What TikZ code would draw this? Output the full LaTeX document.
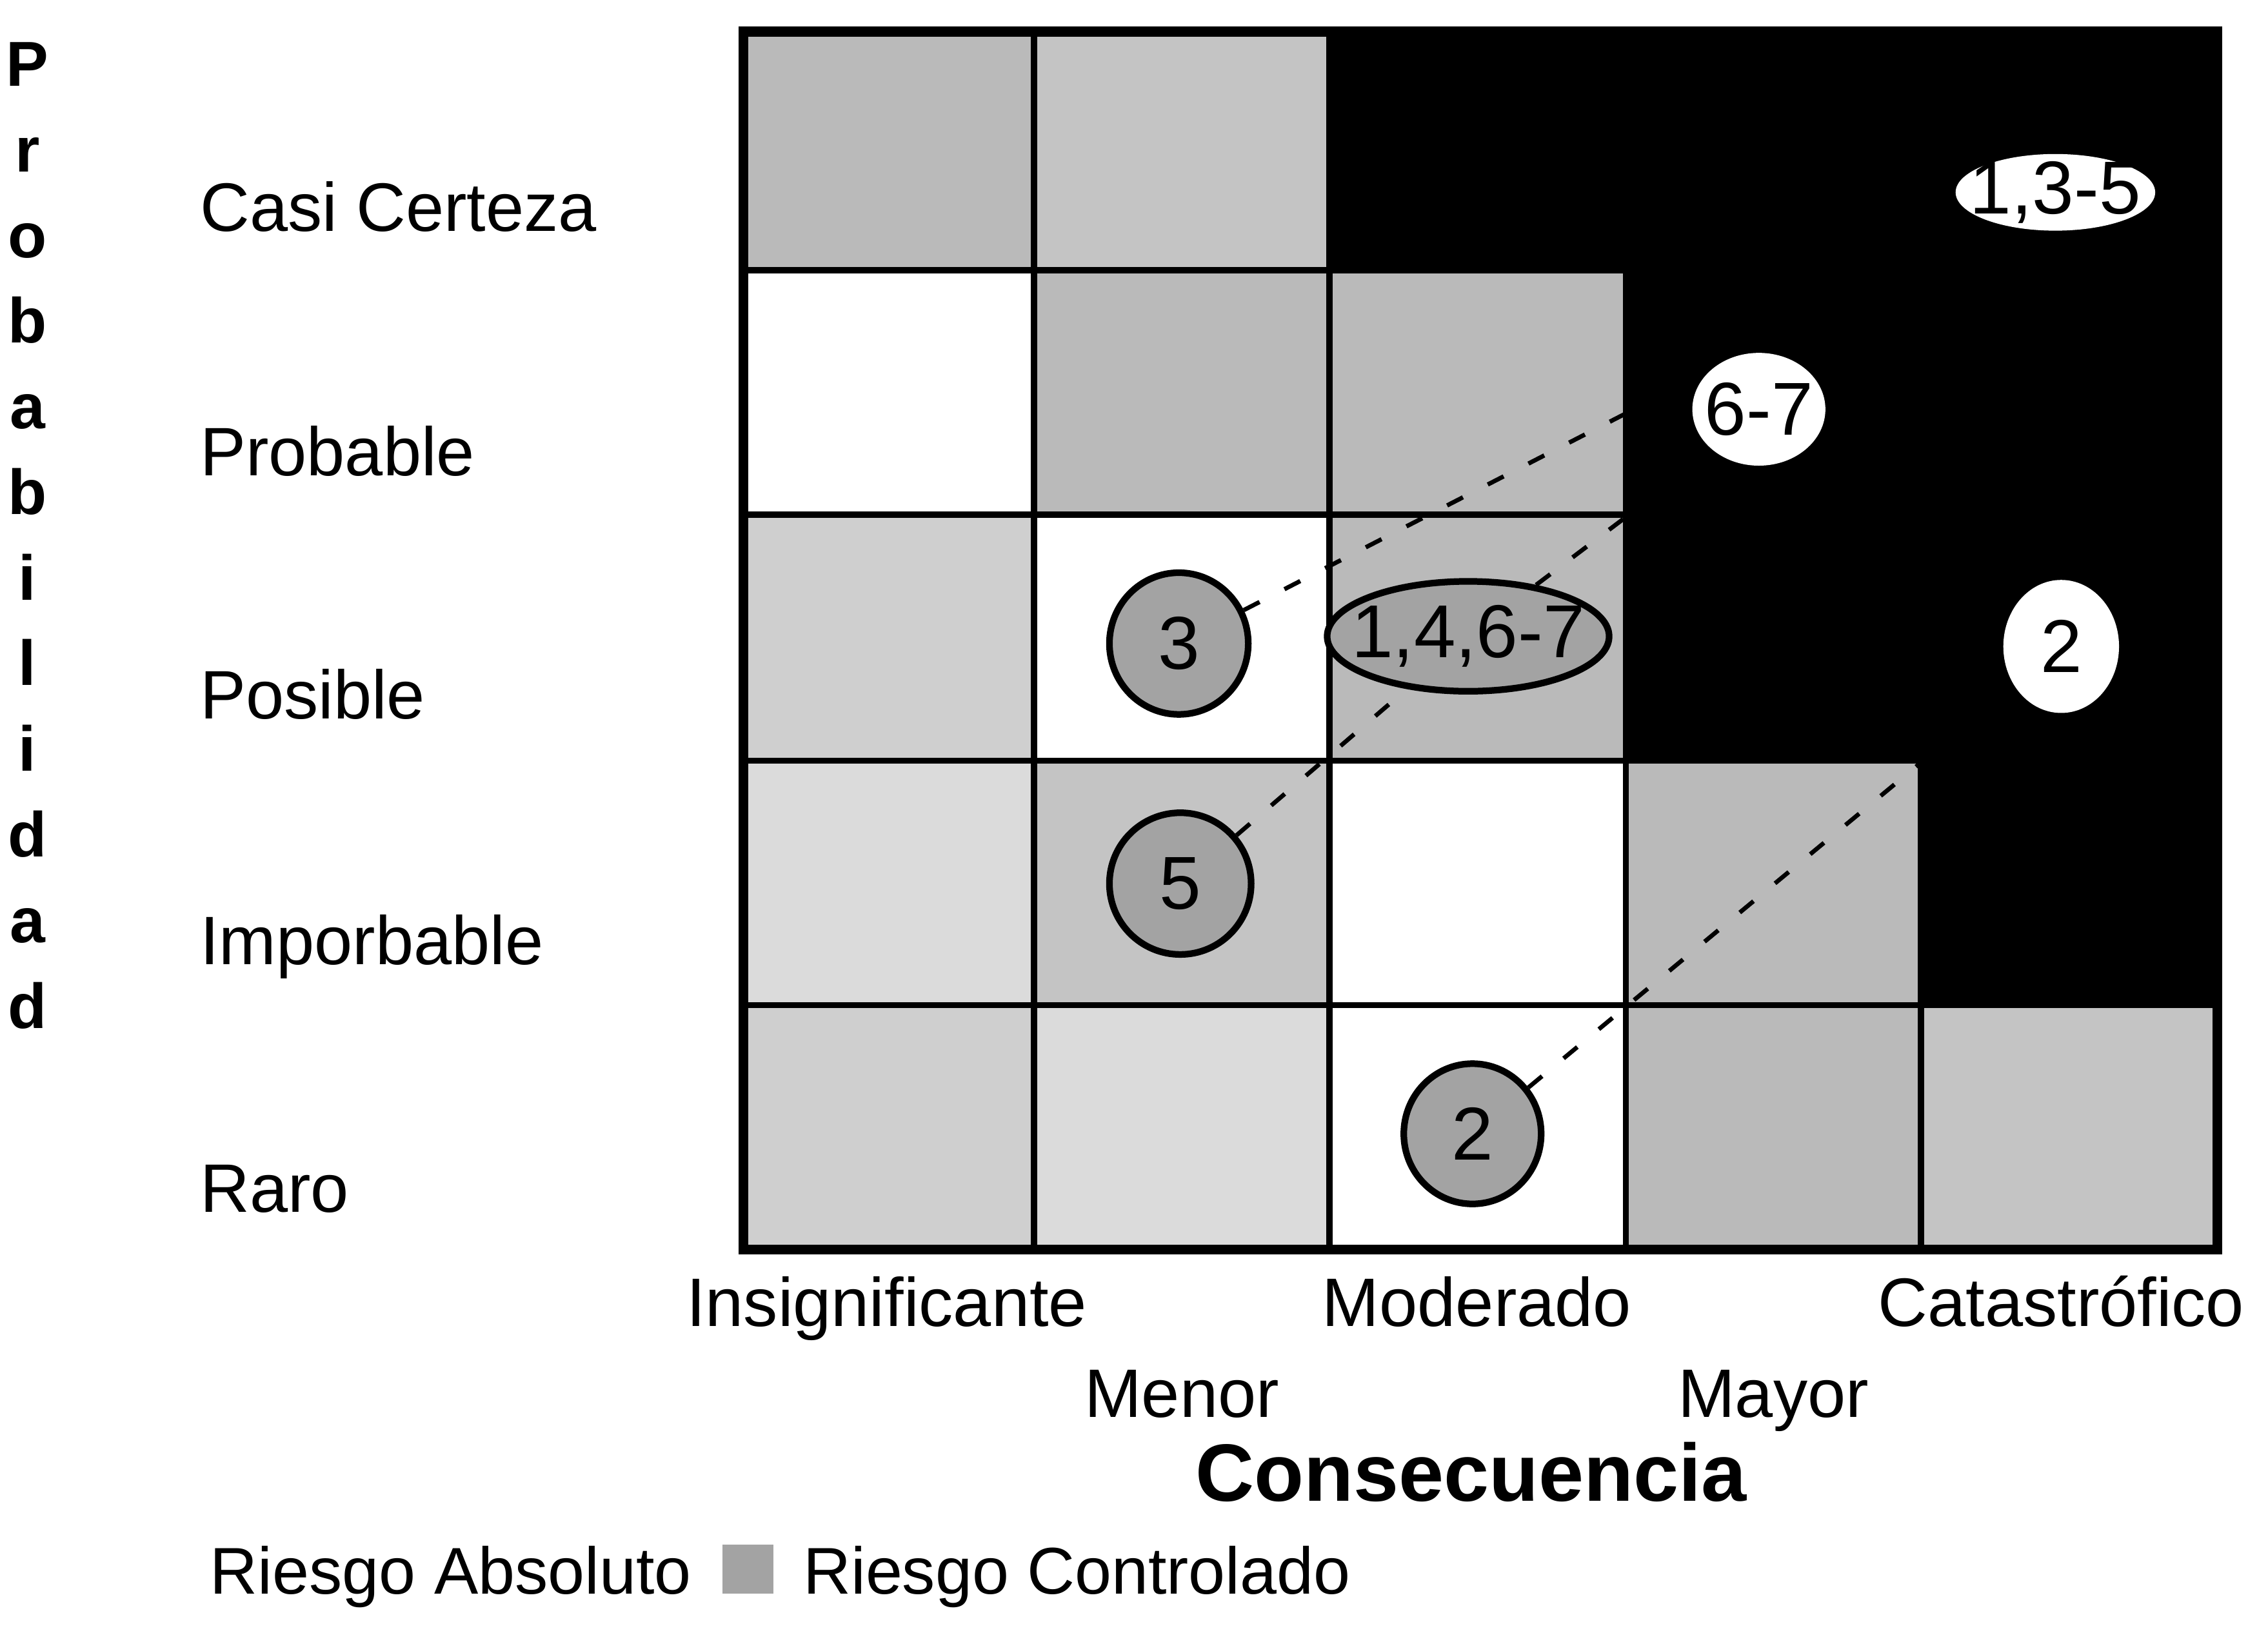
\documentclass[tikz,border=0pt]{standalone}
\usepackage{fontspec}
\setmainfont{Liberation Sans}
\usetikzlibrary{shapes.geometric}
\pgfdeclarelayer{back}
\pgfdeclarelayer{dashes}
\pgfsetlayers{back,dashes,main}
\definecolor{ctrlgrey}{gray}{0.64}
\definecolor{greyA}{gray}{0.73}
\definecolor{greyB}{gray}{0.77}
\definecolor{greyC}{gray}{0.81}
\definecolor{greyD}{gray}{0.86}

\begin{document}
\begin{tikzpicture}[x=0.02cm,y=-0.02cm]
  \useasboundingbox (0,0) rectangle (1568,1135);

  \tikzstyle{absnode}=[shape=ellipse,fill=white,inner sep=0pt]
  \tikzstyle{ctrlnode}=[shape=ellipse,draw=black,line width=2.6pt,fill=ctrlgrey,inner sep=0pt]
  \tikzstyle{every label}=[font=\fontsize{29.5}{32}\selectfont]
  \tikzstyle{rowlabel}=[anchor=base west,inner sep=0pt,font=\fontsize{27}{30}\selectfont]
  \tikzstyle{collabel}=[anchor=base,inner sep=0pt,font=\fontsize{27}{30}\selectfont]
  \tikzstyle{dashline}=[black,line width=1.7pt,dash pattern=on 7pt off 11pt]

  \begin{pgfonlayer}{back}
    % Casi Certeza
    \fill[greyA] (514,22) rectangle (715,187);
    \fill[greyB] (715,22) rectangle (919,187);
    \fill[black] (919,22) rectangle (1533,187);
    % Probable
    \fill[greyA] (715,187) rectangle (919,356);
    \fill[greyA] (919,187) rectangle (1124,356);
    \fill[black] (1124,187) rectangle (1533,356);
    % Posible
    \fill[greyC] (514,356) rectangle (715,526);
    \fill[greyA] (919,356) rectangle (1124,526);
    \fill[black] (1124,356) rectangle (1533,526);
    % Imporbable
    \fill[greyD] (514,526) rectangle (715,695);
    \fill[greyB] (715,526) rectangle (919,695);
    \fill[greyA] (1124,526) rectangle (1328,695);
    \fill[black] (1328,526) rectangle (1533,695);
    % Raro
    \fill[greyC] (514,695) rectangle (715,864);
    \fill[greyD] (715,695) rectangle (919,864);
    \fill[greyA] (1124,695) rectangle (1328,864);
    \fill[greyB] (1328,695) rectangle (1533,864);

    \draw[line width=2.5pt] (715,22) -- (715,864) (919,22) -- (919,864)
                            (1124,22) -- (1124,864) (1328,22) -- (1328,864)
                            (514,187) -- (1533,187) (514,356) -- (1533,356)
                            (514,526) -- (1533,526) (514,695) -- (1533,695);
    \draw[line width=4pt] (514,22) rectangle (1533,864);
  \end{pgfonlayer}

  \node[absnode,minimum width=2.76cm,minimum height=1.06cm,label=center:{1,3-5}] (a135) at (1421,133) {};
  \node[absnode,minimum width=1.84cm,minimum height=1.56cm,label=center:{6-7}]   (a67)  at (1216,283) {};
  \node[absnode,minimum width=1.60cm,minimum height=1.84cm,label=center:{2}]     (a2)   at (1425,447) {};

  \node[ctrlnode,minimum width=3.90cm,minimum height=1.52cm,label=center:{1,4,6-7}] (c1467) at (1015,440) {};
  \node[ctrlnode,minimum width=1.92cm,minimum height=1.96cm,label=center:{3}]       (c3)    at (815,445)  {};
  \node[ctrlnode,minimum width=1.96cm,minimum height=1.96cm,label=center:{5}]       (c5)    at (816,611)  {};
  \node[ctrlnode,minimum width=1.90cm,minimum height=1.94cm,label=center:{2}]       (c2)    at (1018,784) {};

  \begin{pgfonlayer}{dashes}
    \path[dashline] (c3)    edge (a135)
                    (c5)    edge (c1467)
                    (c1467) edge (a135)
                    (c2)    edge (a2);
  \end{pgfonlayer}

  \node[font=\bfseries\fontsize{25}{33.7}\selectfont,align=center,anchor=north,inner sep=0pt] (prob) at (19,29)
    {P\\r\\o\\b\\a\\b\\i\\l\\i\\d\\a\\d};

  \node[rowlabel] (casi)  at (138,160) {Casi Certeza};
  \node[rowlabel] (proba) at (138,329) {Probable};
  \node[rowlabel] (posib) at (138,497) {Posible};
  \node[rowlabel] (impor) at (138,667) {Imporbable};
  \node[rowlabel] (raro)  at (138,838) {Raro};

  \node[collabel] (insig) at (613,917)  {Insignificante};
  \node[collabel] (moder) at (1021,917) {Moderado};
  \node[collabel] (catas) at (1425,917) {Catastrófico};
  \node[collabel] (menor) at (817,980)  {Menor};
  \node[collabel] (mayor) at (1226,980) {Mayor};
  \node[anchor=base,inner sep=0pt,font=\bfseries\fontsize{32}{34}\selectfont] (conse) at (1017,1038) {Consecuencia};

  \node[rowlabel,font=\fontsize{26}{30}\selectfont] (rabs) at (145,1102) {Riesgo Absoluto};
  \node[fill=ctrlgrey,minimum width=0.7cm,minimum height=0.68cm,inner sep=0pt] (swatch) at (517,1085) {};
  \node[rowlabel,font=\fontsize{26}{30}\selectfont] (rctl) at (555,1102) {Riesgo Controlado};
\end{tikzpicture}
\end{document}
